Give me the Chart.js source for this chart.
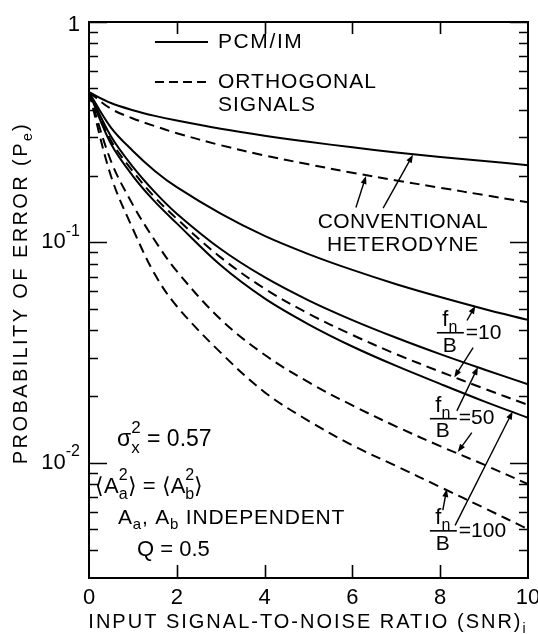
<!DOCTYPE html>
<html>
<head>
<meta charset="utf-8">
<script src="https://cdn.jsdelivr.net/npm/chart.js@4.4.0/dist/chart.umd.min.js"></script>
<style>
  html, body { margin: 0; padding: 0; background: #fff; }
</style>
</head>
<body>
<canvas id="chart" width="538" height="634"></canvas>
<script>
// input SNR
const snr = [0, 0.5, 1, 1.5, 2, 3, 4, 5, 6, 7, 8, 9, 10];

// PCM/IM (solid)
const pcmConv = [0.48, 0.429, 0.398, 0.375, 0.357, 0.328, 0.305, 0.286, 0.270, 0.256, 0.244, 0.234, 0.224];
const pcm10   = [0.48, 0.332, 0.260, 0.211, 0.178, 0.135, 0.107, 0.0885, 0.075, 0.0646, 0.0565, 0.0499, 0.0445];
const pcm50   = [0.48, 0.303, 0.220, 0.169, 0.135, 0.0933, 0.0695, 0.0546, 0.0444, 0.0369, 0.0311, 0.0265, 0.0227];
const pcm100  = [0.48, 0.28, 0.20, 0.153, 0.122, 0.0787, 0.0557, 0.0425, 0.0337, 0.0275, 0.0228, 0.019, 0.016];

// orthogonal signals (dashed)
const orthConv = [0.48, 0.404, 0.365, 0.337, 0.313, 0.276, 0.248, 0.226, 0.207, 0.191, 0.177, 0.164, 0.152];
const orth10   = [0.48, 0.29, 0.21, 0.16, 0.128, 0.0855, 0.0617, 0.0475, 0.038, 0.0311, 0.0259, 0.0217, 0.0183];
const orth50   = [0.48, 0.234, 0.148, 0.102, 0.074, 0.0447, 0.0309, 0.0232, 0.0182, 0.0146, 0.0119, 0.0098, 0.008];
const orth100  = [0.48, 0.20, 0.115, 0.0716, 0.0513, 0.0316, 0.0209, 0.0155, 0.012, 0.00966, 0.00776, 0.00624, 0.005];

// axes
const xLabels = [0, 2, 4, 6, 8, 10];
const xMarks = [2, 4, 6, 8];
const yMajor = [1, 0.1, 0.01];
const yLabels = [['1'], ['10', {sup: '-1'}], ['10', {sup: '-2'}]];
const yMinor = [0.9, 0.8, 0.7, 0.6, 0.5, 0.4, 0.3, 0.2,
                0.09, 0.08, 0.07, 0.06, 0.05, 0.04, 0.03, 0.02,
                0.009, 0.008, 0.007, 0.006, 0.005, 0.004];

// arrows: [from snr, from Pe, to snr, to Pe]
const arrows = [
  [6.08, 0.144, 6.31, 0.200],
  [6.70, 0.143, 7.38, 0.250],
  [8.61, 0.0442, 8.80, 0.0515],
  [8.75, 0.0333, 8.32, 0.0244],
  [8.38, 0.0172, 8.86, 0.0272],
  [8.72, 0.0137, 8.40, 0.0112],
  [8.06, 0.0061, 8.15, 0.0076],
  [8.34, 0.0052, 9.65, 0.0171]
];
// f_n/B labels: [snr, Pe, value]
const ratioLabels = [[8.22, 0.0389, '10'], [8.06, 0.01585, '50'], [8.06, 0.00491, '100']];

const FONT = '"Liberation Sans", Arial, sans-serif';

function line(data, dashed) {
  return {
    data: snr.map((s, i) => ({x: s, y: data[i]})),
    borderColor: '#000',
    borderWidth: 2,
    borderDash: dashed ? [10, 6] : [],
    pointRadius: 0,
    tension: 0.35,
    fill: false
  };
}

// text with sub/superscripts
function rich(ctx, x, y, parts, size, align, spacing) {
  const small = Math.round(size * 0.72);
  ctx.letterSpacing = (spacing || 0) + 'px';
  const widths = parts.map(p => {
    if (typeof p === 'string') {
      ctx.font = size + 'px ' + FONT;
      return ctx.measureText(p).width;
    }
    ctx.font = small + 'px ' + FONT;
    return Math.max(p.sup ? ctx.measureText(p.sup).width : 0, p.sub ? ctx.measureText(p.sub).width : 0);
  });
  const total = widths.reduce((a, b) => a + b, 0);
  let cx = align === 'right' ? x - total : align === 'center' ? x - total / 2 : x;
  ctx.textAlign = 'left';
  ctx.textBaseline = 'middle';
  parts.forEach((p, i) => {
    if (typeof p === 'string') {
      ctx.font = size + 'px ' + FONT;
      ctx.fillText(p, cx, y);
    } else {
      ctx.font = small + 'px ' + FONT;
      if (p.sup) ctx.fillText(p.sup, cx, y - size * 0.5);
      if (p.sub) ctx.fillText(p.sub, cx, y + size * 0.35);
    }
    cx += widths[i];
  });
  ctx.letterSpacing = '0px';
}

function arrow(ctx, x1, y1, x2, y2) {
  const ang = Math.atan2(y2 - y1, x2 - x1);
  ctx.beginPath();
  ctx.moveTo(x1, y1);
  ctx.lineTo(x2 - 6 * Math.cos(ang), y2 - 6 * Math.sin(ang));
  ctx.stroke();
  ctx.beginPath();
  ctx.moveTo(x2, y2);
  ctx.lineTo(x2 - 8 * Math.cos(ang) + 3 * Math.sin(ang), y2 - 8 * Math.sin(ang) - 3 * Math.cos(ang));
  ctx.lineTo(x2 - 8 * Math.cos(ang) - 3 * Math.sin(ang), y2 - 8 * Math.sin(ang) + 3 * Math.cos(ang));
  ctx.closePath();
  ctx.fill();
}

const decor = {
  id: 'decor',
  afterDraw(chart) {
    const {ctx, chartArea: a, scales: {x, y}} = chart;
    ctx.save();
    ctx.strokeStyle = '#000';
    ctx.fillStyle = '#000';
    ctx.setLineDash([]);

    // frame
    ctx.lineWidth = 2;
    ctx.strokeRect(a.left, a.top, a.right - a.left, a.bottom - a.top);

    // inward ticks
    ctx.lineWidth = 1.6;
    const tickY = (v, len) => {
      const py = Math.round(y.getPixelForValue(v)) + 0.5;
      ctx.beginPath();
      ctx.moveTo(a.left, py); ctx.lineTo(a.left + len, py);
      ctx.moveTo(a.right, py); ctx.lineTo(a.right - len, py);
      ctx.stroke();
    };
    yMajor.forEach(v => tickY(v, 18));
    yMinor.forEach(v => tickY(v, 9));
    xMarks.forEach(v => {
      const px = Math.round(x.getPixelForValue(v)) + 0.5;
      ctx.beginPath();
      ctx.moveTo(px, a.bottom); ctx.lineTo(px, a.bottom - 13);
      ctx.moveTo(px, a.top); ctx.lineTo(px, a.top + 12);
      ctx.stroke();
    });

    // tick labels
    yMajor.forEach((v, i) => {
      const py = y.getPixelForValue(v);
      rich(ctx, a.left - 9, py + (i === 0 ? 3 : 0), yLabels[i], 22, 'right');
    });
    xLabels.forEach(v => {
      rich(ctx, x.getPixelForValue(v), a.bottom + 20, [String(v)], 22, 'center');
    });

    // axis titles
    rich(ctx, 308, 622, ['INPUT SIGNAL-TO-NOISE RATIO (SNR)', {sub: 'i'}], 20, 'center', 2);
    ctx.save();
    ctx.translate(21, 293);
    ctx.rotate(-Math.PI / 2);
    rich(ctx, 0, 0, ['PROBABILITY OF ERROR (P', {sub: 'e'}, ')'], 20, 'center', 2.4);
    ctx.restore();

    // legend
    ctx.lineWidth = 2;
    ctx.beginPath(); ctx.moveTo(155, 42); ctx.lineTo(208, 42); ctx.stroke();
    ctx.setLineDash([9, 5]);
    ctx.beginPath(); ctx.moveTo(155, 82); ctx.lineTo(208, 82); ctx.stroke();
    ctx.setLineDash([]);
    rich(ctx, 218, 42, ['PCM/IM'], 21, 'left', 1.6);
    rich(ctx, 218, 82, ['ORTHOGONAL'], 21, 'left', 1.0);
    rich(ctx, 218, 105, ['SIGNALS'], 21, 'left', 1.0);

    // conventional heterodyne label
    rich(ctx, x.getPixelForValue(7.15), y.getPixelForValue(0.123), ['CONVENTIONAL'], 21, 'center', 0.4);
    rich(ctx, x.getPixelForValue(7.15), y.getPixelForValue(0.0968), ['HETERODYNE'], 21, 'center', 0.6);

    // f_n / B labels
    ratioLabels.forEach(([sx, pe, val]) => {
      const cx = x.getPixelForValue(sx), cy = y.getPixelForValue(pe);
      rich(ctx, cx, cy - 13, ['f', {sub: 'n'}], 22, 'center');
      ctx.lineWidth = 1.6;
      ctx.beginPath(); ctx.moveTo(cx - 13, cy); ctx.lineTo(cx + 14, cy); ctx.stroke();
      rich(ctx, cx, cy + 13, ['B'], 21, 'center');
      rich(ctx, cx + 16, cy, ['=' + val], 21, 'left');
    });

    // arrows
    ctx.lineWidth = 1.4;
    arrows.forEach(([s1, p1, s2, p2]) => {
      arrow(ctx, x.getPixelForValue(s1), y.getPixelForValue(p1), x.getPixelForValue(s2), y.getPixelForValue(p2));
    });

    // parameter notes
    rich(ctx, 117, 440, ['σ', {sup: '2', sub: 'x'}, ' = 0.57'], 23, 'left');
    rich(ctx, 95, 487, ['⟨A', {sup: '2', sub: 'a'}, '⟩ = ⟨A', {sup: '2', sub: 'b'}, '⟩'], 22, 'left');
    rich(ctx, 118, 518, ['A', {sub: 'a'}, ', A', {sub: 'b'}, ' INDEPENDENT'], 21, 'left', 0.8);
    rich(ctx, 137, 550, ['Q = 0.5'], 22, 'left');

    ctx.restore();
  }
};

new Chart(document.getElementById('chart'), {
  type: 'line',
  data: {
    datasets: [
      line(pcmConv), line(pcm10), line(pcm50), line(pcm100),
      line(orthConv, true), line(orth10, true), line(orth50, true), line(orth100, true)
    ]
  },
  options: {
    responsive: false,
    animation: false,
    devicePixelRatio: 1,
    layout: {padding: {left: 89, right: 10, top: 22, bottom: 56}},
    plugins: {legend: {display: false}, tooltip: {enabled: false}},
    scales: {
      x: {type: 'linear', min: 0, max: 10, display: false},
      y: {type: 'logarithmic', min: 0.003, max: 1, display: false}
    }
  },
  plugins: [decor]
});
</script>
</body>
</html>
